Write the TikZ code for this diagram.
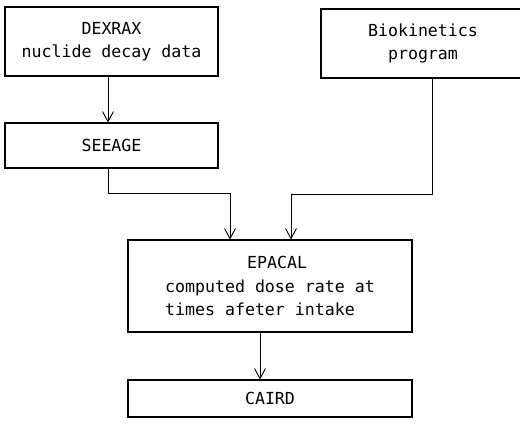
\documentclass[tikz,border=0pt]{standalone}
\usepackage{fontspec}
\usepackage{tikz}
\usetikzlibrary{arrows.meta, positioning}
\newfontfamily\flowfont{DejaVu Sans Mono}

\begin{document}
\begin{tikzpicture}[
  x=1pt, y=-1pt,
  >={Straight Barb[length=10pt, width=11pt]},
  every node/.style={font=\flowfont\fontsize{16.6}{23.5}\selectfont},
  prog/.style={draw, line width=1.1pt, align=center, inner sep=0pt},
  link/.style={->, line width=0.9pt}
]
\useasboundingbox (0,0) rectangle (520,427);
\node[prog, minimum width=213pt, minimum height=69pt] (dexrax) at (111.5,41.5) {DEXRAX\\nuclide decay data};
\node[prog, minimum width=213pt, minimum height=45pt] (seeage) at (111.5,145.5) {SEEAGE};
\node[prog, minimum width=204pt, minimum height=69pt] (bio) at (423,43.5) {Biokinetics\\program};
\node[prog, minimum width=284pt, minimum height=92pt, align=left] (epacal) at (270,286)
  {\hspace*{82pt}EPACAL\\computed dose rate at\hspace*{17pt}\\times afeter intake};
\node[prog, minimum width=284pt, minimum height=37pt] (caird) at (270,398.5) {CAIRD};
\coordinate (jleft) at (108,193);
\coordinate (jright) at (432,194);
\draw[link] ([xshift=-3.5pt]dexrax.south) -- ([xshift=-3.5pt]seeage.north);
\draw[link] ([xshift=-3.5pt]seeage.south) -- (jleft) -| ([xshift=-40pt]epacal.north);
\draw[link] ([xshift=9pt]bio.south) -- (jright) -| ([xshift=21pt]epacal.north);
\draw[link] ([xshift=-10pt]epacal.south) -- ([xshift=-10pt]caird.north);
\end{tikzpicture}
\end{document}
